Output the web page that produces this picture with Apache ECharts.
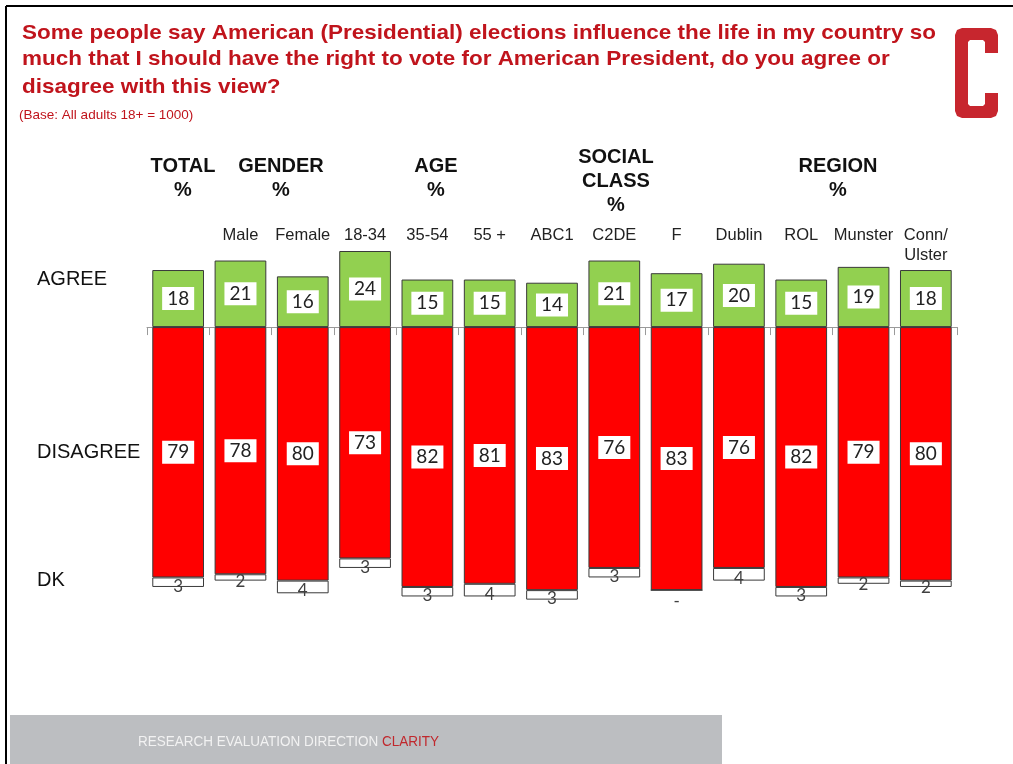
<!DOCTYPE html>
<html>
<head>
<meta charset="utf-8">
<script src="https://cdn.jsdelivr.net/npm/echarts@6/dist/echarts.min.js"></script>
<style>html,body{margin:0;padding:0;background:#fff;}#c{width:1013px;height:764px;}</style>
</head>
<body>
<div id="c"></div>
<script>
const categories = ['', 'Male', 'Female', '18-34', '35-54', '55 +', 'ABC1', 'C2DE', 'F', 'Dublin', 'ROL', 'Munster', 'Conn/\nUlster'];
const agree = [18, 21, 16, 24, 15, 15, 14, 21, 17, 20, 15, 19, 18];
const disagree = [79, 78, 80, 73, 82, 81, 83, 76, 83, 76, 82, 79, 80];
const dk = [3, 2, 4, 3, 3, 4, 3, 3, 0, 4, 3, 2, 2];
const titleLines = [
  'Some people say American (Presidential) elections influence the life in my country so',
  'much that I should have the right to vote for American President, do you agree or',
  'disagree with this view?'
];
const baseNote = '(Base: All adults 18+ = 1000)';
const rowLabels = ['AGREE', 'DISAGREE', 'DK'];
const groupHeaders = ['TOTAL\n%', 'GENDER\n%', 'AGE\n%', 'SOCIAL\nCLASS\n%', 'REGION\n%'];
const footerText = 'RESEARCH EVALUATION DIRECTION ';
const footerBrand = 'CLARITY';

const RED = '#C0141C';
const chart = echarts.init(document.getElementById('c'), null, {renderer: 'canvas'});

function txt(x, y, text, font, fill, align, valign, extra, sx) {
  return {
    type: 'text', x: x, y: y, z: 10, scaleX: sx || 1, originX: 0, originY: 0,
    style: Object.assign({text: text, font: font, fill: fill,
      textAlign: align, align: align, textVerticalAlign: valign, verticalAlign: valign}, extra || {})
  };
}

const hdrFont = 'bold 20px "Liberation Sans", Arial, sans-serif';
const headerPos = [[183, 178], [281, 178], [436, 178], [616, 181], [838, 178]];

// block "C" logo outline
const logoPoints = [
  [962, 28], [991, 28], [996, 30], [998, 35], [998, 53], [985, 53], [985, 42], [983, 40],
  [970, 40], [968, 42], [968, 104], [970, 106], [983, 106], [985, 104], [985, 93], [998, 93],
  [998, 111], [996, 116], [991, 118], [962, 118], [957, 116], [955, 111], [955, 35], [957, 30]
];

const graphics = [
  {type: 'line', shape: {x1: 6, y1: 6, x2: 1013, y2: 6}, style: {stroke: '#000', lineWidth: 2}},
  {type: 'line', shape: {x1: 6, y1: 6, x2: 6, y2: 764}, style: {stroke: '#000', lineWidth: 2}},
  {type: 'rect', shape: {x: 10, y: 715, width: 712, height: 49}, style: {fill: '#BCBEC1'}},
  {type: 'text', x: 138, y: 742, z: 10, scaleX: 0.9, originX: 0, originY: 0, style: {
    text: '{a|' + footerText + '}{b|' + footerBrand + '}',
    verticalAlign: 'middle', textVerticalAlign: 'middle',
    rich: {
      a: {fill: '#F2F2F2', fontSize: 15, fontFamily: 'Liberation Sans'},
      b: {fill: '#C0282D', fontSize: 15, fontFamily: 'Liberation Sans'}
    }
  }},
  {type: 'polygon', z: 10, shape: {points: logoPoints}, style: {fill: '#C7262E'}},
  txt(19, 115, baseNote, '13px "Liberation Sans", Arial, sans-serif', RED, 'left', 'middle', null, 1.04),
];
const titleY = [33, 59, 87];
titleLines.forEach((t, i) => graphics.push(txt(22, titleY[i], t, 'bold 21px "Liberation Sans", Arial, sans-serif', RED, 'left', 'middle', null, 1.07)));
const rowY = [279, 452, 580];
rowLabels.forEach((t, i) => graphics.push(txt(37, rowY[i], t, '20px "Liberation Sans", Arial, sans-serif', '#111', 'left', 'middle')));
groupHeaders.forEach((t, i) => graphics.push(txt(headerPos[i][0], headerPos[i][1], t, hdrFont, '#111', 'center', 'middle', {lineHeight: 24})));

const valueLabel = {
  show: true, position: 'inside', color: '#222',
  fontFamily: 'Lato, "Open Sans", sans-serif', fontSize: 19,
  backgroundColor: '#fff', padding: [3, 5, 1, 5],
  formatter: p => Math.abs(p.value)
};

const option = {
  animation: false,
  backgroundColor: '#fff',
  grid: {left: 147, right: 56, top: 232, bottom: 120},
  xAxis: [
    {type: 'category', data: categories, position: 'bottom',
     axisLine: {onZero: true, lineStyle: {color: '#9A9A9A', width: 1}},
     axisTick: {show: true, length: 8, lineStyle: {color: '#9A9A9A'}},
     axisLabel: {show: false}},
    {type: 'category', data: categories, position: 'top',
     axisLine: {show: false}, axisTick: {show: false},
     axisLabel: {interval: 0, verticalAlign: 'top', margin: 7, lineHeight: 20,
       fontFamily: '"Liberation Sans", Arial, sans-serif', fontSize: 16.5, color: '#222'}}
  ],
  yAxis: {type: 'value', min: -100, max: 30, show: false, splitLine: {show: false}},
  series: [
    {name: 'Agree', type: 'bar', stack: 's', barCategoryGap: '17%', data: agree,
     itemStyle: {color: '#92D050', borderColor: '#3A3A3A', borderWidth: 1}, label: valueLabel},
    {name: 'Disagree', type: 'bar', stack: 's', data: disagree.map(v => -v),
     itemStyle: {color: '#FF0000', borderColor: '#3A3A3A', borderWidth: 1}, label: valueLabel},
    {name: 'DK', type: 'bar', stack: 's',
     data: dk.map(v => v === 0 ? {value: -0, label: {offset: [0, 11]}} : -v),
     itemStyle: {color: '#FFFFFF', borderColor: '#3A3A3A', borderWidth: 1},
     label: {show: true, position: 'inside', offset: [0, 4], color: '#404040',
       fontFamily: 'Lato, "Open Sans", sans-serif', fontSize: 17,
       formatter: p => (p.value === 0 || Object.is(p.value, -0)) ? '-' : Math.abs(p.value)}}
  ],
  graphic: graphics
};
chart.setOption(option);
</script>
</body>
</html>
